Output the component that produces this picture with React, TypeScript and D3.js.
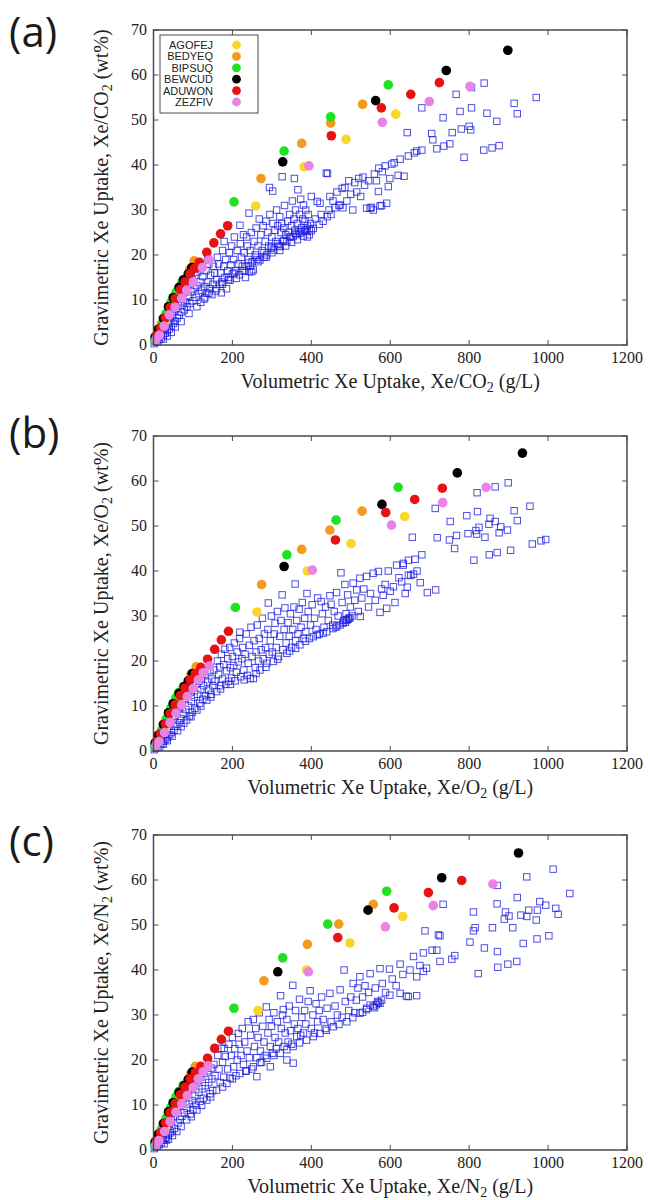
import React from 'react';
import * as d3 from 'd3';

type Pt = [number, number];

const xTicks = [0, 200, 400, 600, 800, 1000, 1200];
const yTicks = [0, 10, 20, 30, 40, 50, 60, 70];
const seriesNames = ['AGOFEJ', 'BEDYEQ', 'BIPSUQ', 'BEWCUD', 'ADUWON', 'ZEZFIV'];
const seriesColors = ['#f8d62a', '#f49b1f', '#22e022', '#000000', '#e81212', '#e983e6'];

// ---------------- Panel (a): Xe/CO2 ----------------
const aBlue: Pt[] = [
  [2,0.3],[5,0.8],[8,1.2],[10,0.6],[12,1.8],[15,1.2],[18,2.5],[20,1.6],[22,3.2],[25,2.2],[28,3.8],[30,2.6],[32,4.5],[35,3.2],[38,5.2],[40,3.6],[42,6],[45,4.2],[48,6.5],[50,4.8],[52,7.5],[55,5.3],[58,8.2],[60,6],[62,9.5],[65,6.6],[68,10.2],[70,7.3],[72,8.8],[75,11.5],[78,7.8],[80,9.6],[82,12.5],[85,8.5],[88,10.8],[90,13.5],[92,9.2],[95,11.8],[98,14.5],[100,9.8],[102,12.5],[105,15.5],[108,10.6],[110,13.2],[112,16.2],[115,11.4],[118,14],[120,17],[122,12.2],[125,15.2],[128,10.2],[130,13],[133,16.5],[135,11.5],[137,19.3],[138,14],[140,18],[142,12.5],[145,15.5],[148,11.2],[150,13.5],[152,17.5],
  [25,1.3],[35,2],[45,2.8],[55,4],[70,5.2],[90,7],[110,8.5],[120,9.5],[130,10.5],[140,11.5],
  [155,16],[158,12],[160,14.5],[162,19.5],[165,18],[168,13.5],[170,16],[172,11.6],[173,14],[175,21],[178,17.5],[179,23],[180,15],[183,19],[185,12.5],[188,16.5],[190,14.5],[192,20.5],[194,14.4],[196,17.8],[198,22],[200,15.8],[203,19],[205,24],[208,16.5],[210,14.8],[212,21],[215,18],[218,15.6],[219,26.6],[220,22.5],[223,19.5],[225,16.5],[228,24.5],[230,20.5],[233,15],[235,17.5],[236,24],[238,22],[240,19],[242,29.3],[243,16.3],[245,21],[248,25],[249,16.3],[250,18.5],[253,16.7],[255,23],[258,20],[260,26],[262,19],[265,22],[268,28],[270,18.9],[272,24.5],[275,21],[278,26.5],[280,19.5],[283,23],[285,27.5],[287,20],[290,25],[292,22],[294,35],[295,29],[298,21.5],[300,24],[302,34.2],[303,27],[305,21.1],[308,25.5],[310,23],[312,30],[315,26.5],[318,22],[320,28.5],[321,21.9],[323,25],[325,27],[326,37.4],[328,23],[330,26],[332,31],[335,24.5],[338,23],[340,27.5],[342,25],[345,29],[348,24],[350,26.5],[352,32],[354,24.1],[356,28],[357,37],[358,25.5],[360,30],[362,24.5],[364,27],[366,34.5],[368,25.2],[370,29],[371,24.8],[373,32.4],[375,26],[378,28],[380,31.1],[382,25.5],[384,27.5],[386,30],[388,25.2],[390,26.5],[392,29],[395,25.8],[398,27],[400,33],[405,25.9],[410,28],[415,31.9],[420,26.8],[422,31.5],[425,29],[430,27.5],[438,38.2],[440,28.5],[441,38.1],[445,30],[447,33],[450,29],[455,32],[460,30.5],[465,34],[470,31],[473,31.1],[478,34.8],[480,30.5],[485,35],[490,32],[495,36.5],[500,33.5],[505,30],[510,36.1],[515,34],[520,37],[525,33],[531,37.3],[535,35.5],[540,30.4],[545,36.5],[549,30.4],[552,30.6],[557,30],[560,38],[565,36.5],[570,34.1],[571,39.3],[574,30.9],[578,31],[580,38.5],[587,39.8],[591,31.5],[595,35.2],[599,37],[604,40.2],[610,40.5],[620,37.7],[625,41.3],[635,37.5],[646,42],[661,42.7],[667,43.1],[680,43.3],
  [160,12.5],[175,13.5],[190,15],[205,16],[225,17.5],[240,18.2],[260,19.5],[280,20.5],[300,21.8],[315,22.5],[330,23.2],[345,24],[360,24.8],[375,25.2],[385,25.6],[395,24.5],[400,25.4],[390,24],[380,24.2],[365,23.4],[350,22.8],[335,22],[320,21],[300,20.5],[285,19.5],[265,18.5],[245,17.5],[230,16.5],
  [838,58.2],[806,57.2],[767,55.7],[970,55],[680,52.7],[914,53.7],[806,52.7],[734,50.5],[777,51.9],[922,51.4],[845,51.5],[870,49.7],[643,47.2],[705,47],[757,47.2],[780,48],[800,48.6],[804,47.8],[708,45.6],[718,43.6],[736,44.2],[751,44.7],[787,41.7],[837,43.3],[858,43.8],[876,44.3]
];
const aAGOFEJ: Pt[] = [[30,5.2],[68,10.8],[259,30.9],[381.5,39.6],[488,45.7],[614,51.3]];
const aBEDYEQ: Pt[] = [[22,4.8],[48,9.6],[75,14],[92,16.8],[103,18.7],[272.5,37],[375.6,44.8],[449,49.3],[530,53.5]];
const aBIPSUQ: Pt[] = [[3,1],[8,2],[14,3.2],[20,4.5],[26,5.8],[32,7],[38,8.2],[44,9.4],[50,10.5],[57,11.7],[64,12.8],[72,14],[204,31.8],[331,43.1],[449,50.7],[595,57.8]];
const aBEWCUD: Pt[] = [[4,1.8],[12,3.5],[25,5.9],[38,8.5],[50,10.5],[65,12.8],[76,14.5],[88,15.8],[97,17.2],[327.5,40.7],[563,54.3],[742,61],[898,65.5]];
const aADUWON: Pt[] = [[8,2],[18,3.8],[30,6],[42,8.3],[55,10.3],[68,12.3],[80,14],[92,15.8],[104,17],[116,18.4],[135,20.6],[153,22.7],[170,24.7],[188,26.5],[450.7,46.5],[577.5,52.7],[652,55.7],[724.5,58.3]];
const aZEZFIV: Pt[] = [[6,1.2],[15,2.2],[27,4.2],[40,6.7],[54.5,8.4],[71.5,10.4],[84,12.2],[101,14],[124,17.2],[141,18.9],[394,39.8],[580,49.5],[699,54.1],[802,57.5]];

// ---------------- Panel (b): Xe/O2 ----------------
const bBlue: Pt[] = [
  [2,0.3],[5,0.6],[8,1.3],[11,0.8],[13,2],[16,0.9],[18,2.8],[21,1.7],[23,3.4],[26,2.2],[29,4],[31,2.6],[34,4.8],[36,3.1],[39,5.5],[41,3.6],[44,6.2],[46,4.1],[49,7],[52,4.6],[54,7.8],[57,5.5],[59,8.6],[61,4.5],[63,9.3],[66,6.3],[68,10],[70,7.2],[73,10.8],[75,8.2],[77,6.2],[80,11.6],[82,9.2],[84,6.9],[87,12.4],[89,10],[91,7.8],[94,13],[96,11],[98,8.6],[101,14],[103,12],[105,9.5],[108,14.8],[110,9.1],[112,12.6],[115,15.5],[117,10.6],[120,13.6],[122,16.2],[125,11.5],[127,14.5],[130,17],[132,12.3],[135,11.3],[137,15.3],[140,13.5],[143,17.8],[146,12.6],[148,16],[150,14.5],
  [25,1.5],[35,2.3],[47,3.3],[70,5.4],[95,7.6],[120,10],[145,12],
  [153,18],[156,15.5],[160,13.2],[162,20],[165,17],[168,18.7],[170,14.5],[172,21.5],[175,16],[178,19.2],[181,22.6],[183,14.8],[185,17.8],[188,20.5],[190,15.5],[193,23],[195,18.5],[198,16.2],[200,21],[203,19],[205,24],[207,15.6],[210,17.5],[212,22],[215,19.8],[218,25],[219,26.4],[221,16.5],[224,20.5],[226,23],[229,18],[232,21.5],[235,26],[238,16.8],[240,19.5],[243,23.5],[245,16.1],[247,27.5],[250,21],[253,16.1],[255,24.5],[258,18.5],[260,22],[263,28],[266,20],[268,25],[270,18],[273,22.5],[276,29.5],[278,20.5],[281,26],[284,23],[287,19.5],[290,27],[291,32.9],[293,21.5],[296,24.5],[299,30],[301,22],[304,19.9],[306,26],[308,28.4],[311,23],[314,31],[317,21],[320,25.5],[323,29],[326,34.7],[328,22.5],[331,27],[333,31.8],[336,24],[338,21.7],[341,28.5],[344,25.5],[347,30.5],[350,23],[353,27],[356,32],[359,37.1],[360,24.5],[363,29],[366,26],[369,31.5],[371,23.6],[374,27.5],[377,33],[380,25],[383,29.5],[386,26.5],[389,35],[392,31],[395,25],[398,28],[402,32.5],[405,25.4],[408,29.5],[412,27],[416,34],[420,26],[425,33.2],[428,30.5],[432,27.5],[436,32],[439,26.5],[443,29],[447,34.5],[450,32.6],[454,28],[458,31],[462,27.5],[464,35.2],[468,30],[473,28],[475,39.6],[478,33],[482,29],[485,37],[488,30.5],[490,29],[492,34.7],[495,29.5],[499,32],[503,30],[506,37.3],[510,33.5],[515,35.8],[519,31],[523,38.4],[524,29.9],[528,34],[533,36],[540,38.8],[545,32],[550,35],[557,39.5],[562,33.5],[570,39.9],[574,30.8],[578,36],[582,34.6],[587,37],[591,31.7],[595,40],[600,35.5],[608,36.5],[612,33],[616,41.3],[622,38.5],[629,37.6],[633,41.7],[633,41.3],[638,35],[643,36.4],[646,42.4],[646,39.1],[652,39],[656,47.5],[659,39.3],[663,42.6],[668,40],[676,37.4],[680,43.6],[694,35.2],[715,35.8],[719,47.4],[714,53.9],
  [170,13.8],[195,14.8],[230,15.8],[260,17.2],[285,18.6],[315,20.4],[345,22.2],[360,22.8],[385,24.4],[415,25.8],[430,26.2],[455,27.2],[465,27.8],[480,28.4],[486,28.6],[494,29.3],[498,29.6],[488,29.2],
  [750,46.9],[752,51],[763,45],[768,47.9],[794,52.3],[797,48.3],[812,42.4],[817,49],[819,48.2],[820,57.4],[821,53.2],[825,49.7],[840,47.5],[850,50.4],[851,43.6],[853,51.7],[866,51],[866,58.7],[871,44.1],[876,48.5],[880,49.8],[897,49.1],[899,59.6],[905,44.6],[914,53.4],[922,51.2],[954,54.4],[960,46],[982,46.7],[994,47]
];
const bAGOFEJ: Pt[] = [[30,5],[68,10.6],[262,30.9],[390,40],[500.6,46.1],[636.6,52.1]];
const bBEDYEQ: Pt[] = [[22,4.7],[48,9.5],[75,13.8],[95,17],[108,18.7],[274,37],[375.5,44.8],[447,49.1],[528.5,53.3]];
const bBIPSUQ: Pt[] = [[3,1],[8,2],[14,3.2],[20,4.5],[26,5.8],[32,7.1],[38,8.3],[44,9.5],[50,10.6],[57,11.8],[64,13],[75.5,14.3],[207.5,31.9],[338,43.6],[462.6,51.3],[620,58.6]];
const bBEWCUD: Pt[] = [[4,1.8],[12,3.5],[25,5.9],[38,8.5],[50,10.5],[65,12.8],[78,14.3],[88,15.6],[98,17.2],[331,41],[579,54.8],[770,61.8],[935,66.2]];
const bADUWON: Pt[] = [[8,2],[18,3.8],[30,6],[42,8.3],[55,10.3],[68,12.3],[80,14],[93,15.8],[106,17.2],[120,18.6],[137,20.4],[155,22.6],[172,24.7],[190,26.6],[461,46.9],[588.5,53],[662,55.9],[732,58.4]];
const bZEZFIV: Pt[] = [[6,1.2],[14,2.1],[28,4.1],[42,6.3],[57,8.4],[71.4,10.2],[85.7,12.1],[101,13.9],[113.6,15.8],[126,17.4],[141.5,18.9],[402.5,40.2],[603,50.2],[733,55.2],[843,58.6]];

// ---------------- Panel (c): Xe/N2 ----------------
const cBlue: Pt[] = [
  [2,0.3],[5,0.7],[7,1.4],[10,0.8],[13,2.1],[15,1.2],[18,2.9],[20,1.6],[23,3.6],[25,2.2],[28,4.2],[30,2.6],[33,2.2],[34,5],[37,3.3],[40,5.8],[42,3.8],[45,6.6],[47,4.2],[50,7.4],[53,4.8],[55,8.2],[59,4.1],[60,9],[62,6],[65,9.8],[67,6.8],[70,10.6],[72,7.5],[75,11.4],[78,8.3],[80,12.2],[84,6.7],[85,9.3],[88,13],[90,10.2],[93,8],[95,13.8],[98,11],[100,9],[102,14.6],[105,12],[108,10],[110,8.9],[112,15.4],[115,12.8],[118,10.8],[120,16.2],[123,13.6],[126,11.5],[128,17],[131,14.3],[135,11.1],[137,17.6],[140,15],[143,12.5],[146,18.2],[148,15.8],[150,13.2],
  [27,1.4],[38,2.4],[48,3.2],[70,5.2],[96,7.4],[122,9.9],[145,11.8],
  [153,19],[156,16.5],[160,13.3],[163,21],[166,18],[169,15],[172,22.6],[175,19.5],[178,16.2],[179,22.6],[182,20.8],[186,14.8],[188,18],[191,23.5],[194,16],[197,21],[200,25],[203,18.5],[206,22.5],[209,16.5],[212,20],[215,25.9],[217,23.5],[219,17],[222,21],[225,27],[228,19],[231,24],[234,17.5],[237,22],[240,28.5],[243,20.5],[246,25.5],[249,18],[253,29],[253,18.5],[256,23],[259,27],[262,16.3],[262,20.5],[265,25],[268,30.5],[271,22],[274,19.5],[277,27.5],[280,24],[283,21],[286,31.8],[287,20.4],[290,26],[293,29],[296,18.5],[296,23],[299,27.5],[302,21.5],[305,30.5],[308,25],[311,22.5],[314,28.5],[317,24],[321,21.5],[322,34.3],[324,27],[327,30],[329,31.2],[331,23],[334,26],[338,20],[338,29],[341,24],[344,32],[347,26.5],[350,23.5],[353,36.6],[354,23],[354,19.3],[357,28],[360,31],[363,25.2],[366,27],[370,33.5],[373,25.5],[376,29.5],[380,26],[383,31],[386,28],[388,24.4],[392,33],[397,35.4],[400,27],[404,30],[408,26],[412,32.5],[416,28.5],[420,31],[422,25.9],[426,34],[430,29],[435,27],[440,31.5],[447,34.8],[450,28.5],[456,27.4],[460,32],[466,30],[473,35.6],[478,29.5],[483,40],[486,33],[490,28.5],[495,31],[500,34],[506,37],[510,30.5],[514,33.3],[518,36],[523,30.4],[523,38.5],[530,34],[536,36.5],[540,31.5],[545,35],[549,39.2],[549,32.2],[557,31.9],[562,36],[568,33],[574,32.6],[574,40.3],[578,33.3],[580,37],[588,35],[598,40.2],[599,34.4],[605,38],[615,36.5],[625,41.3],[625,34.8],[632,39],[641,34.2],[646,34.1],[650,40],[659,43],[667,34.3],[667,38.5],[675,41],[684,39.7],[684,43.8],[688,48.7],[692,40.4],[706,44.4],[718,44.4],[722,47.8],[726,41.9],[726,47.6],[734,54.6],
  [175,14],[200,15.8],[235,17.6],[270,19.4],[305,21],[338,22.3],[370,23.8],[405,25.2],[438,26.6],[470,27.9],[505,29.4],[540,31.2],[565,32.3],[570,32.8],[560,31.6],[530,30.6],
  [756,42.4],[763.5,43.2],[802,46.2],[810.7,52.9],[810.7,48.7],[815,49.4],[823,39.2],[838.6,44.9],[859,49.4],[870.7,54.7],[871.6,58.8],[871.6,44.1],[872.5,40.6],[889,51.3],[892,52.9],[898,41.3],[901,52],[910.5,49.4],[920.6,41.9],[922,56.1],[931,52.2],[937,45.9],[946,60.7],[946,51.9],[951,53.3],[970,51.1],[972,46.9],[973,53.3],[979,55.2],[994,54.4],[1002,47.6],[1012.7,62.4],[1019.5,53.7],[1025.5,52.4],[1055,57]
];
const cAGOFEJ: Pt[] = [[30,5],[68,10.6],[265,31],[388,40],[498,46],[631.7,51.9]];
const cBEDYEQ: Pt[] = [[22,4.7],[48,9.5],[75,13.8],[95,17],[106,18.6],[280,37.6],[390,45.7],[469.5,50.2],[557,54.6]];
const cBIPSUQ: Pt[] = [[3,1],[8,2],[14,3.2],[20,4.5],[26,5.8],[32,7.1],[38,8.3],[44,9.5],[50,10.6],[57,11.8],[64,13],[75,14.4],[204,31.5],[327.5,42.7],[441.5,50.2],[591,57.5]];
const cBEWCUD: Pt[] = [[4,1.8],[12,3.5],[25,5.9],[38,8.5],[50,10.5],[65,12.8],[78,14.3],[88,15.7],[98,17.3],[315,39.6],[543.7,53.3],[730.5,60.5],[925,66]];
const cADUWON: Pt[] = [[8,2],[18,3.8],[30,6],[42,8.3],[55,10.3],[68,12.3],[80,14],[93,15.8],[106,17.2],[120,18.6],[137,20.4],[155,22.6],[172,24.6],[190,26.4],[467,47.2],[609.6,53.8],[696.6,57.2],[781,59.9]];
const cZEZFIV: Pt[] = [[6,1.2],[14,2.1],[28,4.1],[42,6.3],[57,8.4],[71.4,10.2],[85.7,12.1],[101,13.9],[113.6,15.8],[126,17.4],[139,18.7],[392.5,39.6],[587.6,49.6],[709,54.3],[860,59.1]];

const W = 648, H = 1200;
const PLOT_LEFT = 153.5, PLOT_RIGHT = 627, PLOT_H = 315;

interface PanelProps {
  top: number;
  letter: string;
  letterY: number;
  gas: string;
  blue: Pt[];
  colored: Pt[][];
  legend: boolean;
}

function Panel({ top, letter, letterY, gas, blue, colored, legend }: PanelProps) {
  const x = d3.scaleLinear().domain([0, 1200]).range([PLOT_LEFT, PLOT_RIGHT]);
  const y = d3.scaleLinear().domain([0, 70]).range([top + PLOT_H, top]);
  const bottom = top + PLOT_H;
  const sq = 6.4;
  const serif = '"Liberation Serif", "Times New Roman", serif';
  const frame = '#4a4a4a';
  return (
    <g>
      <text x={9} y={letterY} fontFamily='"Open Sans", "Noto Sans", sans-serif' fontSize={42} fill="#1a1a1a">({letter})</text>
      {/* blue squares */}
      <g fill="none" stroke="#1c1ce0" strokeOpacity={0.78} strokeWidth={1}>
        {blue.map((d, i) => (
          <rect key={i} x={x(d[0]) - sq / 2} y={y(d[1]) - sq / 2} width={sq} height={sq} />
        ))}
      </g>
      {/* colored series */}
      {colored.map((s, si) => (
        <g key={si} fill={seriesColors[si]}>
          {s.map((d, i) => (
            <circle key={i} cx={x(d[0])} cy={y(d[1])} r={4.8} />
          ))}
        </g>
      ))}
      {/* frame */}
      <rect x={PLOT_LEFT} y={top} width={PLOT_RIGHT - PLOT_LEFT} height={PLOT_H} fill="none" stroke={frame} strokeWidth={1.5} />
      {xTicks.map((t) => (
        <g key={'x' + t}>
          <line x1={x(t)} x2={x(t)} y1={bottom} y2={bottom - 5} stroke={frame} strokeWidth={1} />
          <line x1={x(t)} x2={x(t)} y1={top} y2={top + 5} stroke={frame} strokeWidth={1} />
          <text x={x(t)} y={bottom + 18} textAnchor="middle" fontFamily={serif} fontSize={16} fill="#222">{t}</text>
        </g>
      ))}
      {yTicks.map((t) => (
        <g key={'y' + t}>
          <line x1={PLOT_LEFT} x2={PLOT_LEFT + 5} y1={y(t)} y2={y(t)} stroke={frame} strokeWidth={1} />
          <line x1={PLOT_RIGHT} x2={PLOT_RIGHT - 5} y1={y(t)} y2={y(t)} stroke={frame} strokeWidth={1} />
          <text x={147} y={y(t) + 5} textAnchor="end" fontFamily={serif} fontSize={16} fill="#222">{t}</text>
        </g>
      ))}
      {/* x title */}
      <text x={(PLOT_LEFT + PLOT_RIGHT) / 2} y={bottom + 43} textAnchor="middle" fontFamily={serif} fontSize={20} fill="#222">
        Volumetric Xe Uptake, Xe/{gas}
        <tspan dy={4} fontSize={14}>2</tspan>
        <tspan dy={-4}> (g/L)</tspan>
      </text>
      {/* y title */}
      <text transform={`translate(108,${top + PLOT_H / 2}) rotate(-90)`} textAnchor="middle" fontFamily={serif} fontSize={20} fill="#222">
        Gravimetric Xe Uptake, Xe/{gas}
        <tspan dy={4} fontSize={14}>2</tspan>
        <tspan dy={-4}> (wt%)</tspan>
      </text>
      {legend && (
        <g>
          <rect x={160} y={top + 5} width={98} height={78} fill="#fff" stroke={frame} strokeWidth={1} />
          {seriesNames.map((n, i) => (
            <g key={n}>
              <text x={213} y={top + 19 + i * 11.4} textAnchor="end" fontFamily='"Liberation Sans", Arial, sans-serif' fontSize={11} fill="#222">{n}</text>
              <circle cx={236.5} cy={top + 15 + i * 11.4} r={4.4} fill={seriesColors[i]} />
            </g>
          ))}
        </g>
      )}
    </g>
  );
}

export default function App() {
  return (
    <svg width={W} height={H} viewBox={`0 0 ${W} ${H}`} style={{ position: 'absolute', left: 0, top: 0, background: '#fff' }}>
      <rect width={W} height={H} fill="#fff" />
      <Panel top={30} letter="a" letterY={47} gas="CO" blue={aBlue}
        colored={[aAGOFEJ, aBEDYEQ, aBIPSUQ, aBEWCUD, aADUWON, aZEZFIV]} legend={true} />
      <Panel top={436} letter="b" letterY={448} gas="O" blue={bBlue}
        colored={[bAGOFEJ, bBEDYEQ, bBIPSUQ, bBEWCUD, bADUWON, bZEZFIV]} legend={false} />
      <Panel top={835} letter="c" letterY={856} gas="N" blue={cBlue}
        colored={[cAGOFEJ, cBEDYEQ, cBIPSUQ, cBEWCUD, cADUWON, cZEZFIV]} legend={false} />
    </svg>
  );
}
